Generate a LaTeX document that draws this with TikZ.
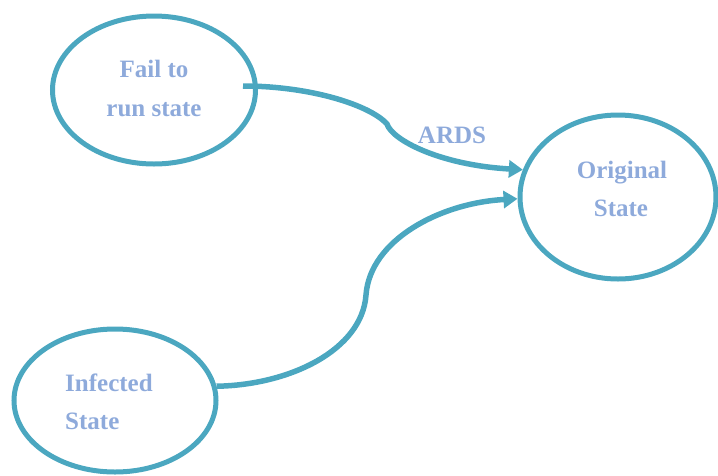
\documentclass[tikz,border=0pt]{standalone}
\usepackage{fontspec}
\setmainfont{Liberation Serif}
\usetikzlibrary{shapes.geometric,arrows.meta,calc}
\definecolor{edgeteal}{HTML}{4BA7C0}
\definecolor{labelblue}{HTML}{8EAADB}
\tikzset{
  statering/.style={ellipse, draw=edgeteal, line width=5pt, inner sep=0pt},
  statetext/.style={text=labelblue, font=\bfseries\fontsize{25}{30}\selectfont, inner sep=0pt},
  flow/.style={draw=edgeteal, line width=5.5pt,
    -{Triangle[length=14pt,width=17pt]}},
}
\begin{document}
\begin{tikzpicture}[x=1pt,y=-1pt]
\useasboundingbox (0,0) rectangle (718,475);

% states
\node[statering, minimum width=203pt, minimum height=148pt] (fail) at (154,90) {};
\node[statering, minimum width=196pt, minimum height=164pt] (orig) at (618,197) {};
\node[statering, minimum width=202pt, minimum height=143pt] (inf) at (115,400.5) {};

% state labels
\node[statetext, anchor=base] (failA) at (154,77) {Fail to};
\node[statetext, anchor=base] (failB) at (154,116) {run state};
\node[statetext, anchor=base] (origA) at (622,178) {Original};
\node[statetext, anchor=base] (origB) at (621,216) {State};
\node[statetext, anchor=base west] (infA) at (65,391) {Infected};
\node[statetext, anchor=base west] (infB) at (65,429) {State};

% transitions
\draw[flow] ($(fail.center)+(89,-4)$)
  .. controls (310,86) and (370,105) .. (387,124)
  .. controls (392,140) and (440,165) .. (orig.164);
\draw[flow] (inf.8)
  .. controls (290,385) and (362,350) .. (366,295)
  .. controls (370,240) and (440,203) .. (orig.181);

\node[statetext, anchor=base] (ards) at (452,143) {ARDS};
\end{tikzpicture}
\end{document}
